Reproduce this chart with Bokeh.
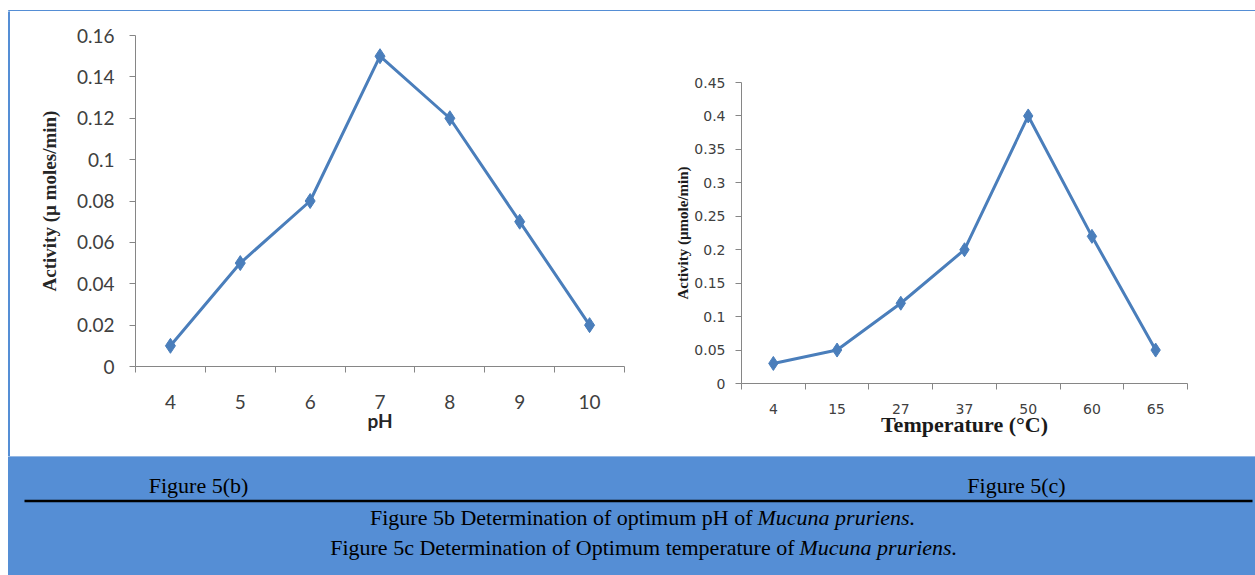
from bokeh.plotting import figure
from bokeh.layouts import column, row
from bokeh.models import Range1d, FixedTicker, CustomJSTickFormatter
from bokeh.core.properties import value
from bokeh.embed import file_html
from bokeh.resources import INLINE

# ---------------- data ----------------
ph_values = [4, 5, 6, 7, 8, 9, 10]
ph_activity = [0.01, 0.05, 0.08, 0.15, 0.12, 0.07, 0.02]
ph_yticks = [0, 0.02, 0.04, 0.06, 0.08, 0.1, 0.12, 0.14, 0.16]

temp_labels = ["4", "15", "27", "37", "50", "60", "65"]
temp_activity = [0.03, 0.05, 0.12, 0.20, 0.40, 0.22, 0.05]
temp_yticks = [0, 0.05, 0.1, 0.15, 0.2, 0.25, 0.3, 0.35, 0.4, 0.45]

label_5b = "Figure 5(b)"
label_5c = "Figure 5(c)"
caption1_plain = "Figure 5b Determination of optimum pH of"
caption2_plain = "Figure 5c Determination of Optimum temperature of"
caption_italic = "Mucuna pruriens."

# ---------------- styles ----------------
BLUE = "#558ED5"
LINE = "#4A7EBB"
AXIS = "#868686"
TICKTXT = "#404040"
SERIF = "Liberation Serif"

fmt = CustomJSTickFormatter(code="return (Math.round(tick*1000)/1000).toString()")


def deco(width, height):
    p = figure(width=width, height=height, x_range=Range1d(0, width), y_range=Range1d(height, 0),
               toolbar_location=None, output_backend="svg", min_border=0,
               x_axis_location=None, y_axis_location=None, outline_line_color=None,
               background_fill_color="white", border_fill_color="white", frame_align=False)
    p.grid.visible = False
    return p


def style_axes(p, tick_font, tick_size, xstandoff, ystandoff):
    for ax in (p.xaxis[0], p.yaxis[0]):
        ax.axis_line_color = AXIS
        ax.major_tick_line_color = AXIS
        ax.minor_tick_line_color = AXIS
        ax.major_label_text_font = tick_font
        ax.major_label_text_font_size = tick_size
        ax.major_label_text_color = TICKTXT
        ax.major_tick_in = 0
        ax.minor_tick_in = 0
    xa = p.xaxis[0]
    xa.major_tick_out = 0
    xa.minor_tick_out = 6
    xa.major_label_standoff = xstandoff
    ya = p.yaxis[0]
    ya.major_tick_out = 6
    ya.minor_tick_out = 0
    ya.major_label_standoff = ystandoff
    ya.formatter = fmt


# ---------------- top strip (border) ----------------
top = deco(1255, 11)
top.quad(left=8, right=1255, top=9, bottom=11, color=BLUE)

side = deco(10, 445)
side.quad(left=8, right=10, top=0, bottom=445, color=BLUE)

# ---------------- Figure 5(b): pH ----------------
pl = figure(width=650, height=445, x_range=Range1d(ph_values[0] - 0.5, ph_values[-1] + 0.5),
            y_range=Range1d(ph_yticks[0], ph_yticks[-1]),
            toolbar_location=None, output_backend="svg", frame_align=False,
            min_border_left=125, min_border_right=36, min_border_top=24, min_border_bottom=90,
            outline_line_color=None, background_fill_color="white", border_fill_color="white")
pl.grid.visible = False
pl.xaxis[0].ticker = FixedTicker(ticks=ph_values,
                                 minor_ticks=[v - 0.5 for v in ph_values] + [ph_values[-1] + 0.5])
pl.yaxis[0].ticker = FixedTicker(ticks=ph_yticks)
style_axes(pl, "Lato", "19px", 22, 15)
pl.xaxis[0].axis_label = "pH"
pl.xaxis[0].axis_label_text_font = "Lato"
pl.xaxis[0].axis_label_text_font_style = "bold"
pl.xaxis[0].axis_label_text_font_size = "19px"
pl.xaxis[0].axis_label_text_color = "#262626"
pl.xaxis[0].axis_label_standoff = -3
pl.yaxis[0].axis_label = "Activity (µ moles/min)"
pl.yaxis[0].axis_label_text_font = SERIF
pl.yaxis[0].axis_label_text_font_style = "bold"
pl.yaxis[0].axis_label_text_font_size = "19px"
pl.yaxis[0].axis_label_text_color = "#262626"
pl.yaxis[0].axis_label_standoff = 14
pl.line(ph_values, ph_activity, line_color=LINE, line_width=3)
pl.scatter(ph_values, ph_activity, marker="diamond", size=15, fill_color=LINE, line_color=LINE)

# ---------------- Figure 5(c): temperature ----------------
temp_pos = list(range(1, len(temp_labels) + 1))
pr = figure(width=595, height=445, x_range=Range1d(0.5, len(temp_labels) + 0.5),
            y_range=Range1d(temp_yticks[0], temp_yticks[-1]),
            toolbar_location=None, output_backend="svg", frame_align=False,
            min_border_left=81, min_border_right=68, min_border_top=71, min_border_bottom=73,
            outline_line_color=None, background_fill_color="white", border_fill_color="white")
pr.grid.visible = False
pr.xaxis[0].ticker = FixedTicker(ticks=temp_pos,
                                 minor_ticks=[v - 0.5 for v in temp_pos] + [temp_pos[-1] + 0.5])
pr.xaxis[0].major_label_overrides = {pos: lab for pos, lab in zip(temp_pos, temp_labels)}
pr.yaxis[0].ticker = FixedTicker(ticks=temp_yticks)
style_axes(pr, "DejaVu Sans", "14px", 14, 10)
pr.xaxis[0].axis_label = "Temperature (°C)"
pr.xaxis[0].axis_label_text_font = SERIF
pr.xaxis[0].axis_label_text_font_style = "bold"
pr.xaxis[0].axis_label_text_font_size = "22px"
pr.xaxis[0].axis_label_text_color = "#1a1a1a"
pr.xaxis[0].axis_label_standoff = -5
pr.yaxis[0].axis_label = "Activity (µmole/min)"
pr.yaxis[0].axis_label_text_font = SERIF
pr.yaxis[0].axis_label_text_font_style = "bold"
pr.yaxis[0].axis_label_text_font_size = "15px"
pr.yaxis[0].axis_label_text_color = "#1a1a1a"
pr.yaxis[0].axis_label_standoff = 0
pr.line(temp_pos, temp_activity, line_color=LINE, line_width=3)
pr.scatter(temp_pos, temp_activity, marker="diamond", size=14, fill_color=LINE, line_color=LINE)

# ---------------- caption band ----------------
band = deco(1255, 119)
band.quad(left=8, right=1255, top=0, bottom=119, color=BLUE)
band.segment(x0=24, x1=1252, y0=44.5, y1=44.5, line_color="black", line_width=2.5)
band.text(x=[198, 1016], y=[28.5, 28.5], text=[label_5b, label_5c], text_font=value(SERIF),
          text_font_size="22px", text_align="center", text_baseline="alphabetic", text_color="black")
band.text(x=[752, 794], y=[60.5, 90.5], text=[caption1_plain, caption2_plain], text_font=value(SERIF),
          text_font_size="22px", text_align="right", text_baseline="alphabetic", text_color="black")
band.text(x=[757, 799], y=[60.5, 90.5], text=[caption_italic, caption_italic], text_font=value(SERIF),
          text_font_size="22px", text_font_style="italic", text_align="left",
          text_baseline="alphabetic", text_color="black")

layout = column(top, row(side, pl, pr), band)
open("out.html", "w").write(file_html(layout, INLINE))
